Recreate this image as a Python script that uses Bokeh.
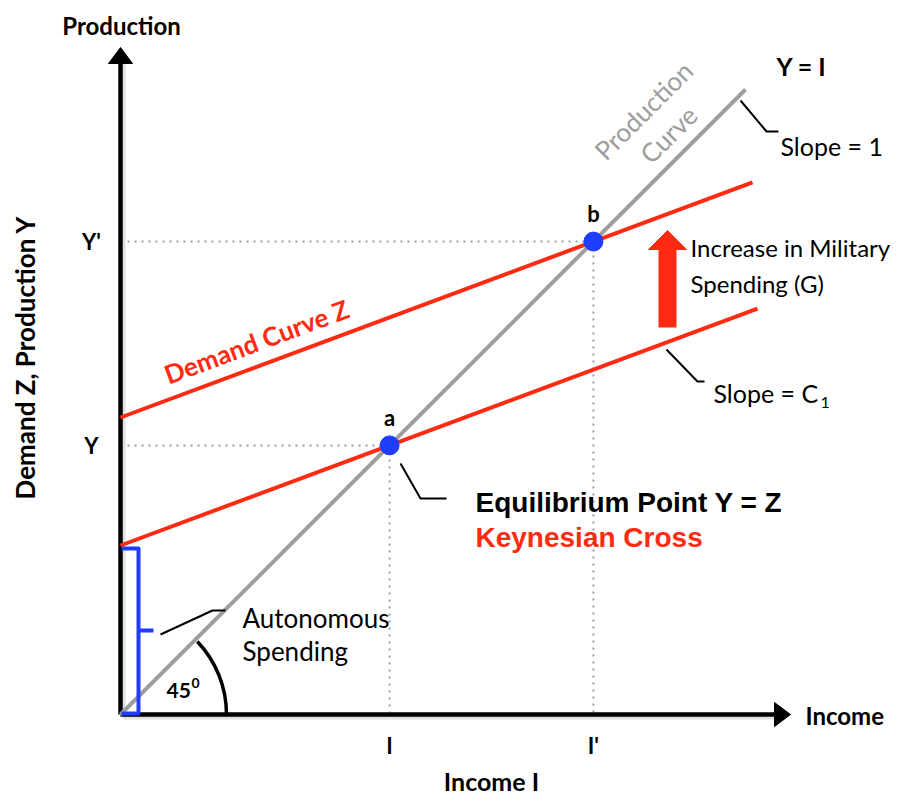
import math
from bokeh.plotting import figure
from bokeh.models import Range1d, ColumnDataSource
from bokeh.core.properties import value
from bokeh.embed import file_html
from bokeh.resources import INLINE

# ---- data (model units: origin at axes crossing) ----
autonomous_spending = [169, 297]      # demand-curve intercepts (A, A')
mpc = 0.372                           # slope C1 of demand curves
demand_x_end = [637, 632]             # where the demand curves stop
production_x_end = 625                # end of the Y = I line
point_labels = ["a", "b"]
y_tick_labels = ["Y", "Y'"]
x_tick_labels = ["I", "I'"]
axis_x_end = 670
axis_y_end = 667

# equilibrium Y = Z  ->  Y = A / (1 - c1)
eq = [a / (1 - mpc) for a in autonomous_spending]

RED = "#ff2a12"
BLUE = "#1f3cff"
GRAY = "#9d9d9d"
FONT = value("Lato")
ARIAL = value("Liberation Sans")

p = figure(width=904, height=794, x_range=Range1d(-120, 784), y_range=Range1d(-80, 714),
           output_backend="svg", toolbar_location=None, min_border=0)
p.axis.visible = False
p.grid.visible = False
p.outline_line_color = None
p.background_fill_color = "white"

# dotted guide lines
gx, gy = [], []
for e in eq:
    gx.append([0, e]); gy.append([e, e])
    gx.append([e, e]); gy.append([e, 0])
p.multi_line(gx, gy, line_color=GRAY, line_width=2, line_dash="2 5")

# axes (with faint shadow)
p.line([3, axis_x_end - 10], [-3, -3], line_color="#cccccc", line_width=4, line_alpha=0.6)
p.line([3, 3], [-3, axis_y_end - 10], line_color="#cccccc", line_width=4, line_alpha=0.6)
p.line([0, axis_x_end - 12], [0, 0], line_color="black", line_width=4.5)
p.line([0, 0], [0, axis_y_end - 12], line_color="black", line_width=4.5)
hl, hw = 16, 12
p.patches([[axis_x_end, axis_x_end - hl, axis_x_end - hl], [-hw, hw, 0]],
          [[0, hw, -hw], [axis_y_end - hl, axis_y_end - hl, axis_y_end]],
          fill_color="black", line_color="black")

# 45 degree arc
p.arc(x=0, y=0, radius=106, start_angle=0, end_angle=0.76, line_color="black", line_width=3.5)

# production curve Y = I
p.line([0, production_x_end], [0, production_x_end], line_color=GRAY, line_width=4)

# demand curves
for a, xe in zip(autonomous_spending, demand_x_end):
    p.line([0, xe], [a, a + mpc * xe], line_color=RED, line_width=4)

# equilibrium points
src = ColumnDataSource(dict(x=eq, y=eq, lab=point_labels))
p.scatter("x", "y", source=src, size=19, fill_color=BLUE, line_color=BLUE)
p.text([e for e in eq], [e + 28 for e in eq], text=point_labels, text_font=FONT,
       text_font_style="bold", text_font_size="22px", text_align="center", text_baseline="middle")

# tick-like labels
p.text([-29] * 2, eq, text=y_tick_labels, text_font=FONT, text_font_style="bold",
       text_font_size="22px", text_align="center", text_baseline="middle")
p.text(eq, [-31] * 2, text=x_tick_labels, text_font=FONT, text_font_style="bold",
       text_font_size="22px", text_align="center", text_baseline="middle")

# autonomous spending bracket
p.multi_line([[1, 18, 18, 1], [18, 33]], [[166, 166, 1, 1], [84, 84]],
             line_color=BLUE, line_width=4, line_join="round")

# leader lines
p.multi_line([[620, 646, 658], [546, 577, 584], [280, 300, 326], [40, 92, 105]],
             [[614, 583, 583], [365, 333, 333], [251, 216, 216], [80, 104, 104]],
             line_color="black", line_width=2)

# red arrow (increase in G)
ax, ay0, ay1, hw2, hlen = 547, 387, 484, 19, 19
p.line([ax, ax], [ay0, ay1 - hlen + 1], line_color=RED, line_width=18)
p.patch([ax - hw2, ax + hw2, ax], [ay1 - hlen, ay1 - hlen, ay1], fill_color=RED, line_color=RED)

def txt(x, y, s, size, bold=False, color="black", align="left", angle=0, font=FONT):
    p.text([x], [y], text=[s], text_font=font, text_font_style="bold" if bold else "normal",
           text_font_size=size, text_color=color, text_align=align, text_baseline="middle",
           angle=angle)

txt(1, 689, "Production", "24px", bold=True, align="center")
txt(685, -1, "Income", "24px", bold=True)
txt(371, -66, "Income I", "25px", bold=True, align="center")
txt(-96, 357, "Demand Z, Production Y", "26px", bold=True, align="center", angle=math.pi / 2)
txt(656, 649, "Y = I", "25px", bold=True)
txt(660, 569, "Slope = 1", "25px")
txt(523, 604, "Production", "26px", color=GRAY, align="center", angle=math.pi / 4)
txt(548, 580, "Curve", "26px", color=GRAY, align="center", angle=math.pi / 4)
txt(136, 373, "Demand Curve Z", "26px", bold=True, color=RED, align="center", angle=math.atan(mpc))
txt(570, 467, "Increase in Military", "24px")
txt(570, 431, "Spending (G)", "24px")
txt(593, 322, "Slope = C", "25px")
txt(700, 312, "1", "16px")
txt(355, 212, "Equilibrium Point Y = Z", "28px", bold=True, font=ARIAL)
txt(355, 177, "Keynesian Cross", "28px", bold=True, color=RED, font=ARIAL)
txt(122, 97, "Autonomous", "26px")
txt(122, 64, "Spending", "26px")
txt(46, 24, "45", "21px", bold=True)
txt(71, 32, "0", "14px", bold=True)

open("out.html", "w").write(file_html(p, INLINE))
